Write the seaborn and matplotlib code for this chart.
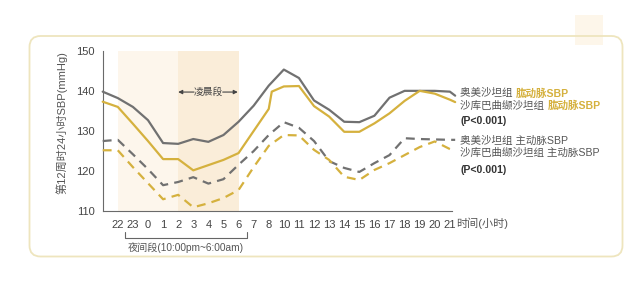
import matplotlib
matplotlib.use("Agg")
import matplotlib.pyplot as plt
import matplotlib.transforms as mtransforms
from matplotlib.patches import FancyBboxPatch, Rectangle
import numpy as np
import pandas as pd
import seaborn as sns

# ---------------- data ----------------
hour_labels = ['22', '23', '0', '1', '2', '3', '4', '5', '6', '7', '8', '10',
               '11', '12', '13', '14', '15', '16', '17', '18', '19', '20', '21']
hour_positions = list(range(len(hour_labels)))

# x positions of the measured points (hour-slot index; -1 = at the y axis)
pos = [-1, 0, 1, 2, 3, 4, 5, 6, 7, 8, 9, 10, 11, 12, 13, 14, 15, 16, 17, 18,
       19, 20, 21, 22, 22.35]
olm_brachial = [139.8, 138.2, 136.0, 132.7, 127.0, 126.8, 128.0, 127.3, 129.0,
                132.3, 136.3, 141.3, 145.3, 143.2, 137.6, 135.3, 132.3, 132.2,
                133.8, 138.3, 140.0, 140.0, 140.0, 139.8, 138.8]
sac_brachial_pos = [-1, 0, 1, 2, 3, 4, 5, 6, 7, 8, 9, 10, 10.2, 11, 12, 13, 14,
                    15, 16, 17, 18, 19, 20, 21, 22, 22.35]
sac_brachial = [137.3, 136.0, 131.8, 127.5, 123.0, 123.0, 120.2, 121.5, 122.8,
                124.5, 130.0, 135.5, 139.8, 141.1, 141.2, 136.2, 133.6, 129.8,
                129.8, 131.9, 134.4, 137.5, 140.0, 139.3, 137.8, 137.2]
olm_aortic = [127.5, 127.8, 124.2, 120.5, 116.5, 117.3, 118.5, 116.9, 118.0,
              121.6, 125.0, 129.0, 132.2, 130.8, 127.5, 122.5, 120.8, 119.8,
              122.0, 124.0, 128.2, 128.0, 127.9, 127.8, 127.8]
sac_aortic = [125.2, 125.2, 121.0, 117.0, 113.0, 114.1, 111.0, 112.0, 113.3,
              115.3, 121.0, 126.3, 129.0, 128.9, 125.3, 122.8, 118.6, 117.8,
              120.3, 122.0, 124.0, 126.0, 127.4, 125.5, 125.0]

series_names = ['olm_brachial', 'sac_brachial', 'olm_aortic', 'sac_aortic']
yticks = [110, 120, 130, 140, 150]

legend_lines = [
    ('奥美沙坦组 ', '肱动脉SBP'),
    ('沙库巴曲缬沙坦组 ', '肱动脉SBP'),
    ('(P<0.001)', None),
    ('奥美沙坦组 主动脉SBP', None),
    ('沙库巴曲缬沙坦组 主动脉SBP', None),
    ('(P<0.001)', None),
]

# ---------------- style ----------------
sns.set_style("white")
FAM = ['Liberation Sans', 'Noto Sans CJK SC', 'DejaVu Sans']
plt.rcParams['font.family'] = FAM

GRAY = '#717171'
GOLD = '#D5B13E'
TEXT = '#555555'
AX = '#6a6a6a'

frames = []
for name, xs, ys in [('olm_brachial', pos, olm_brachial),
                     ('sac_brachial', sac_brachial_pos, sac_brachial),
                     ('olm_aortic', pos, olm_aortic),
                     ('sac_aortic', pos, sac_aortic)]:
    frames.append(pd.DataFrame({'pos': xs, 'sbp': ys, 'series': name}))
df = pd.concat(frames, ignore_index=True)

W, H = 641, 290
fig = plt.figure(figsize=(W / 100, H / 100), dpi=100)
fig.patch.set_facecolor('white')

# outer rounded frame and faint square
fig.patches.append(FancyBboxPatch((29.5, 33.5), 593, 220.5,
                                  boxstyle='round,pad=0,rounding_size=11',
                                  transform=None, facecolor='none',
                                  edgecolor='#EEE5BE', linewidth=1.3))
fig.patches.append(Rectangle((575, 245), 28, 30, transform=None,
                             facecolor='#FDF6EA', edgecolor='none', zorder=0))

ax = fig.add_axes([102.7 / W, 78.7 / H, 349 / W, 160.6 / H])
ax.set_facecolor('none')

# night / early-morning bands
ax.axvspan(0, 4, color='#FDF6EC', lw=0, zorder=0)
ax.axvspan(4, 8, color='#FAEDD9', lw=0, zorder=0)

palette = {'olm_brachial': GRAY, 'sac_brachial': GOLD,
           'olm_aortic': GRAY, 'sac_aortic': GOLD}
dashes = {'olm_brachial': '', 'sac_brachial': '',
          'olm_aortic': (4, 2.8), 'sac_aortic': (4, 2.8)}
sns.lineplot(data=df, x='pos', y='sbp', hue='series', style='series',
             hue_order=series_names, style_order=series_names,
             palette=palette, dashes=dashes, estimator=None, sort=True,
             linewidth=1.6, legend=False, ax=ax, clip_on=False, zorder=3)

ax.set_xlim(-1, 22.12)
ax.set_ylim(110, 150)
ax.set_xticks(hour_positions)
ax.set_xticklabels(hour_labels)
ax.set_yticks(yticks)
ax.set_xlabel('')
ax.set_ylabel('')
for s in ['top', 'right']:
    ax.spines[s].set_visible(False)
for s in ['left', 'bottom']:
    ax.spines[s].set_color(AX)
    ax.spines[s].set_linewidth(0.8)
ax.tick_params(axis='both', colors=AX, labelcolor='#444444', labelsize=8,
               length=3.5, width=0.7, direction='out', pad=2.5)
ax.tick_params(axis='x', pad=3)

# early-morning annotation
ax.text(6, 139.7, '凌晨段', ha='center', va='center', fontsize=7,
        color='#444444', zorder=5)
arr = dict(arrowstyle='-|>', color='#444444', lw=0.8, mutation_scale=6,
           shrinkA=0, shrinkB=0)
ax.annotate('', xy=(4.0, 139.7), xytext=(5.05, 139.7), arrowprops=arr)
ax.annotate('', xy=(7.95, 139.7), xytext=(6.95, 139.7), arrowprops=arr)

# night-time bracket under the axis
trans = mtransforms.blended_transform_factory(ax.transData, ax.transAxes)
ax.plot([0.48, 0.48, 8.57, 8.57], [-0.127, -0.168, -0.168, -0.127],
        transform=trans, color='#666666', lw=0.8, clip_on=False)
ax.text(4.5, -0.225, '夜间段(10:00pm~6:00am)', transform=trans,
        ha='center', va='center', fontsize=7.3, color=TEXT)

# axis titles
fig.text(62 / W, 1 - 123 / H, '第12周时24小时SBP(mmHg)', rotation=90,
         ha='center', va='center', fontsize=8, color=TEXT)
fig.text(456 / W, 1 - 223.5 / H, '时间(小时)', ha='left', va='center',
         fontsize=8, color=TEXT)

# right-hand legend text
fig.canvas.draw()
renderer = fig.canvas.get_renderer()
ys = [93.3, 105.5, 120.7, 140.7, 153.3, 170]
x0 = 460.5 / W
for (part1, part2), yy in zip(legend_lines, ys):
    bold = part1.startswith('(P')
    t = fig.text(x0, 1 - yy / H, part1, ha='left', va='center',
                 fontsize=7.6, color='#333333' if bold else TEXT,
                 fontweight='bold' if bold else 'normal')
    if part2:
        bb = t.get_window_extent(renderer)
        fig.text(bb.x1 / W, 1 - yy / H, part2, ha='left', va='center',
                 fontsize=7.6, color=GOLD, fontweight='bold')

fig.savefig('out.png', dpi=100, facecolor='white')
